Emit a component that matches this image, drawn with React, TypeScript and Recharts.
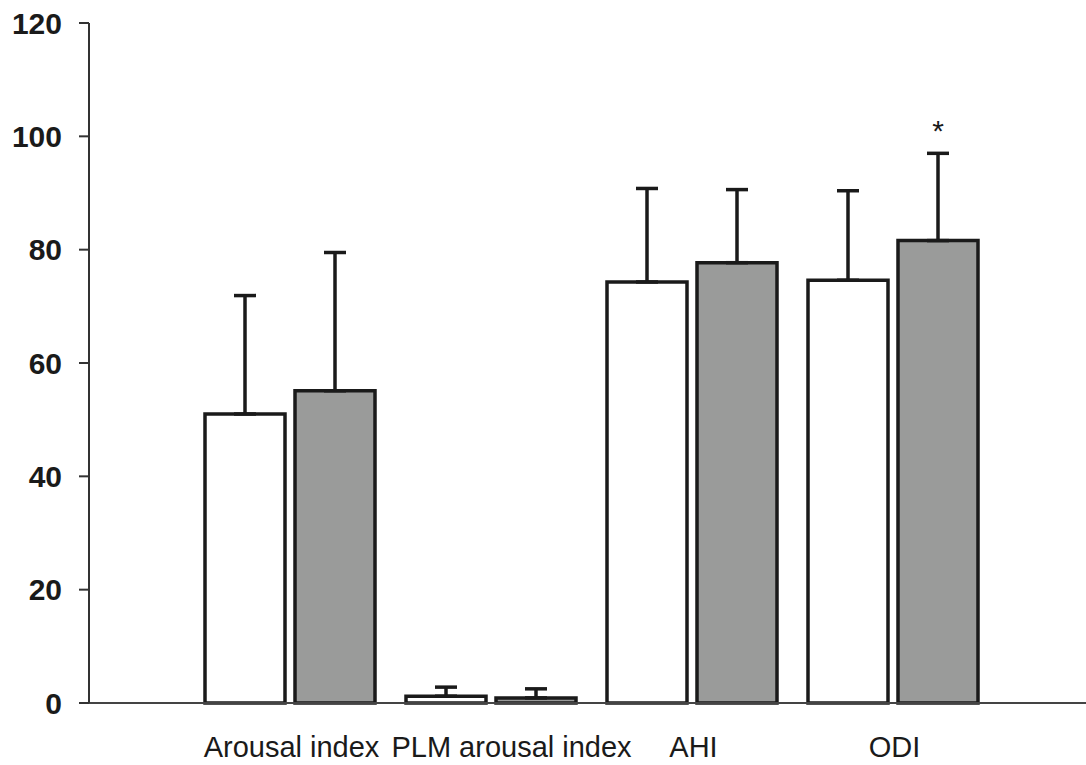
import { BarChart, Bar, XAxis, YAxis, ErrorBar, LabelList } from "recharts";

const categories = ["Arousal index", "PLM arousal index", "AHI", "ODI"];
const whiteMean = [51.0, 1.2, 74.3, 74.6];
const whiteSd = [20.9, 1.6, 16.5, 15.8];
const grayMean = [55.1, 0.9, 77.7, 81.6];
const graySd = [24.4, 1.6, 12.9, 15.4];
const significance = ["", "", "", "*"];
const yTicks = [0, 20, 40, 60, 80, 100, 120];

const data = categories.map((name, i) => ({
  name,
  white: whiteMean[i],
  whiteErr: [0, whiteSd[i]],
  gray: grayMean[i],
  grayErr: [0, graySd[i]],
  sig: significance[i],
}));

const INK = "#1a1a1a";
const FONT = "'Liberation Sans', Arial, sans-serif";

// PLM label is nudged right in the original so it doesn't collide with its neighbour
const tickShift: Record<string, number> = { "Arousal index": 2, "PLM arousal index": 21 };

function CategoryTick(props: any) {
  const { x, y, payload } = props;
  const shift = tickShift[payload.value] ?? 2;
  return (
    <text x={x + shift} y={y} dy="0.71em" textAnchor="middle" fontFamily={FONT} fontSize={29} fill={INK}>
      {payload.value}
    </text>
  );
}

function StarLabel(props: any) {
  const { x, y, width, height, value, index } = props;
  if (!value) return null;
  const d = data[index];
  const pxPerUnit = Math.abs(height) / d.gray;
  const errTop = Number(y) - d.grayErr[1] * pxPerUnit;
  return (
    <text x={Number(x) + Number(width) / 2} y={errTop - 12} textAnchor="middle" fontFamily={FONT} fontSize={30} fill={INK}>
      {value}
    </text>
  );
}

export default function App() {
  return (
    <div style={{ position: "absolute", left: 0, top: 0, background: "#fff" }}>
      <BarChart
        width={1086}
        height={765}
        data={data}
        margin={{ top: 23, right: 0, bottom: 0, left: 0 }}
        barSize={80}
        barGap={10}
      >
        <XAxis
          dataKey="name"
          height={62}
          axisLine={{ stroke: "#444", strokeWidth: 2 }}
          tickLine={false}
          tickSize={0}
          tickMargin={33}
          padding={{ left: 100, right: 93 }}
          tick={<CategoryTick />}
          interval={0}
        />
        <YAxis
          width={89}
          domain={[0, 120]}
          ticks={yTicks}
          interval={0}
          axisLine={{ stroke: "#333", strokeWidth: 2 }}
          tickLine={{ stroke: "#333", strokeWidth: 2 }}
          tickSize={10}
          tickMargin={17}
          tick={{ fontFamily: FONT, fontSize: 30, fontWeight: 700, fill: INK }}
        />
        <Bar dataKey="white" fill="#ffffff" stroke={INK} strokeWidth={3.5} isAnimationActive={false}>
          <ErrorBar dataKey="whiteErr" width={11} stroke={INK} strokeWidth={3.5} direction="y" />
        </Bar>
        <Bar dataKey="gray" fill="#9a9b9a" stroke={INK} strokeWidth={3.5} isAnimationActive={false}>
          <ErrorBar dataKey="grayErr" width={11} stroke={INK} strokeWidth={3.5} direction="y" />
          <LabelList dataKey="sig" content={<StarLabel />} />
        </Bar>
      </BarChart>
    </div>
  );
}
